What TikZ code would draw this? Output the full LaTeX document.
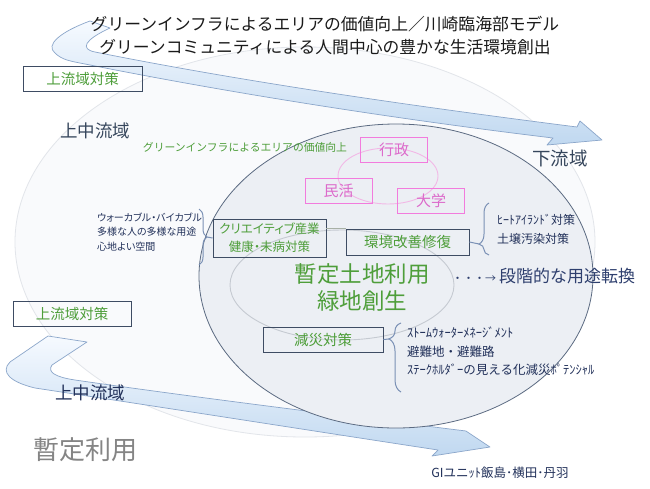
\documentclass[tikz,border=0pt]{standalone}
\usepackage{fontspec}
\setmainfont{Noto Sans CJK JP}
\newfontfamily\jpp{Noto Sans CJK JP}[RawFeature=+palt]
\usetikzlibrary{decorations.pathreplacing,calc}
\definecolor{boxc}{HTML}{3E4C63}
\definecolor{grn}{HTML}{4E9E3A}
\definecolor{navy}{HTML}{22315A}
\definecolor{slate}{HTML}{36465C}
\definecolor{dnavy}{HTML}{2E3F6E}
\definecolor{pinkb}{HTML}{F27BDD}
\definecolor{pinkt}{HTML}{DC6ACB}
\definecolor{pinke}{HTML}{F2B8E6}
\definecolor{bracec}{HTML}{7A90B5}
\definecolor{circf}{HTML}{ECEFF4}
\definecolor{circd}{HTML}{5C6B82}
\definecolor{faintf}{HTML}{F9FAFC}
\definecolor{faintd}{HTML}{E2E5EA}
\definecolor{innerd}{HTML}{C5CAD1}
\definecolor{arrd}{HTML}{8BA6CA}
\definecolor{arrb}{HTML}{C0D8F0}
\definecolor{arrtop}{HTML}{F6FAFF}
\definecolor{grayt}{HTML}{858585}
\definecolor{titlec}{HTML}{1A1A1A}
\definecolor{connc}{HTML}{A8B0A6}
\begin{document}
\begin{tikzpicture}[x=1pt,y=-1pt,
  box/.style={draw=boxc, line width=0.8pt, inner sep=0pt, text=grn},
  pbox/.style={draw=pinkb, line width=0.8pt, inner sep=0pt, text=pinkt,
    font=\fontsize{15}{15}\selectfont, minimum width=67pt, minimum height=25pt},
  arrowband/.style={top color=arrtop, bottom color=arrb, draw=arrd, line width=0.7pt, line join=round},
  bracestyle/.style={draw=bracec, line width=1pt, decorate},
  titlestyle/.style={text=titlec, inner sep=0pt, font=\fontsize{16.8}{16.8}\selectfont},
  smalltext/.style={text=navy, inner sep=0pt, align=left},
]
\useasboundingbox (0,0) rectangle (650,488);
\fill[white] (0,0) rectangle (650,488);

% faint large ellipse
\filldraw[fill=faintf, draw=faintd, line width=0.8pt] (305,242) ellipse [x radius=290pt, y radius=195pt];

% top curved arrow
\path[arrowband] (90,21) .. controls (60,32) and (45,45) .. (55,53)
  .. controls (62,60) and (70,61) .. (85,64)
  .. controls (250,97) and (420,122) .. (553,138)
  -- (547,145) -- (602,140) -- (580,121) -- (577,127)
  .. controls (420,107) and (250,83) .. (95,52)
  .. controls (80,49) and (84,40) .. (110,28) -- cycle;

% bottom curved arrow
\path[arrowband] (48,336) -- (87,342) -- (52,365)
  .. controls (47,372) and (55,377) .. (75,380)
  .. controls (200,398) and (330,414) .. (466,431)
  -- (490,447) -- (432,456) -- (438,450)
  .. controls (320,432) and (180,410) .. (35,388)
  .. controls (10,382) and (0,372) .. (10,362) -- cycle;

% main circle
\filldraw[fill=circf, draw=circd, line width=0.8pt] (396,276) ellipse [x radius=197pt, y radius=152pt];
% inner ellipse
\draw[draw=innerd, line width=0.9pt] (342,285) ellipse [x radius=112pt, y radius=55pt];
% pink ellipse
\draw[draw=pinke, line width=0.9pt] (388,176) ellipse [x radius=50pt, y radius=28pt];

% titles
\node[titlestyle] (t1) at (325,24) {グリーンインフラによるエリアの価値向上／川崎臨海部モデル};
\node[titlestyle] (t2) at (325,47) {グリーンコミュニティによる人間中心の豊かな生活環境創出};

% boxes
\node[box, minimum width=119pt, minimum height=25pt, font=\fontsize{14.5}{14.5}\selectfont] (up1) at (82.5,78.5) {上流域対策};
\node[box, minimum width=118pt, minimum height=25pt, font=\fontsize{14.5}{14.5}\selectfont] (up2) at (72,313.5) {上流域対策};
\node[box, minimum width=113pt, minimum height=38pt, align=center, font=\jpp\fontsize{12.5}{18}\selectfont] (crea) at (269.5,238) {クリエイティブ産業\\健康・未病対策};
\node[box, minimum width=123pt, minimum height=26pt, font=\fontsize{14.5}{14.5}\selectfont] (env) at (407.5,242) {環境改善修復};
\node[box, minimum width=120pt, minimum height=25pt, font=\fontsize{14.5}{14.5}\selectfont] (gen) at (323,339.5) {減災対策};

\node[pbox] (gyo) at (394,150) {行政};
\node[pbox] (min) at (338.5,190.5) {民活};
\node[pbox] (dai) at (431,200.5) {大学};

% connector between boxes
\draw[connc, line width=0.9pt] (crea.east |- env.north) -- (env.north west);

% labels
\node[text=grn, inner sep=0pt, font=\fontsize{10.8}{10.8}\selectfont] (giv) at (245,147) {グリーンインフラによるエリアの価値向上};
\node[text=slate, inner sep=0pt, font=\fontsize{17.5}{17.5}\selectfont] (ucr1) at (95,131) {上中流域};
\node[text=slate, inner sep=0pt, font=\fontsize{18.5}{18.5}\selectfont] (dr) at (560,158) {下流域};
\node[text=navy, inner sep=0pt, font=\fontsize{17.5}{17.5}\selectfont] (ucr2) at (90,393) {上中流域};
\node[text=grayt, inner sep=0pt, font=\fontsize{26}{26}\selectfont] (zan) at (85,450) {暫定利用};
\node[text=grn, inner sep=0pt, align=center, font=\fontsize{22.5}{27}\selectfont] (main) at (362,287.5) {暫定土地利用\\緑地創生};
\node[text=dnavy, inner sep=0pt, anchor=west, font=\fontsize{17}{17}\selectfont] (dan) at (452,276) {{\fontsize{11}{11}\selectfont ・・・→}\,段階的な用途転換};
\node[text=navy, inner sep=0pt, font=\fontsize{12.5}{12.5}\selectfont] (gi) at (500,473) {GIユニｯﾄ飯島･横田･丹羽};

% lists
\node[smalltext, anchor=west, font=\jpp\fontsize{10}{14.5}\selectfont] (llist) at (97,232) {ウォーカブル・バイカブル\\多様な人の多様な用途\\心地よい空間};
\node[smalltext, anchor=west, font=\fontsize{12}{19}\selectfont] (rlist) at (497,229.5) {ﾋｰﾄｱｲﾗﾝﾄﾞ対策\\土壌汚染対策};
\node[smalltext, anchor=west, font=\fontsize{12.5}{18.5}\selectfont] (glist) at (407,351.5) {ｽﾄｰﾑｳｫｰﾀｰﾒﾈｰｼﾞﾒﾝﾄ\\避難地・避難路\\ｽﾃｰｸﾎﾙﾀﾞｰの見える化減災ﾎﾟﾃﾝｼｬﾙ};

% braces
\coordinate (ltip) at (207,237);
\coordinate (rtip) at (479,244);
\coordinate (gtip) at (389,339);
\draw[bracestyle, decoration={brace, amplitude=8pt, aspect=0.5}] (199,209) -- (199,265);
\draw[bracestyle, decoration={brace, amplitude=10pt, aspect=0.21}] (489,255) -- (489,203);
\draw[bracestyle, decoration={brace, amplitude=12pt, aspect=0.77}] (401,392) -- (401,323);
\draw[bracec, line width=1pt] (crea.west) -- (ltip);
\draw[bracec, line width=1pt] (env.east) -- (rtip);
\draw[bracec, line width=1pt] (gen.east) -- (gtip);
\end{tikzpicture}
\end{document}
